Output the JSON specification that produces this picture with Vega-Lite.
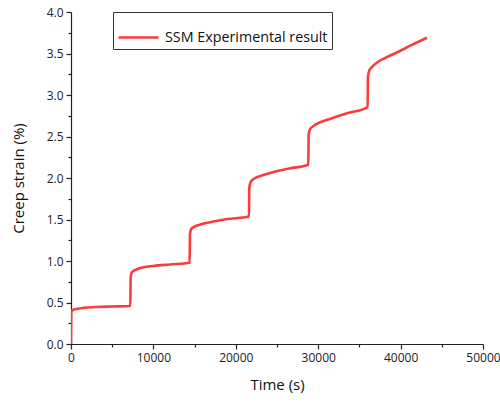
{
  "$schema": "https://vega.github.io/schema/vega-lite/v6.json",
  "autosize": "none",
  "width": 412,
  "height": 332,
  "padding": {"left": 71, "top": 12, "right": 17, "bottom": 60},
  "background": "white",
  "config": {
    "view": {"stroke": null},
    "axis": {"labelFont": "Open Sans", "titleFont": "Open Sans", "labelFontSize": 12, "titleFontSize": 15, "labelColor": "#222", "titleColor": "#111", "titleFontWeight": "normal", "domainColor": "#222", "tickColor": "#222", "domainWidth": 1.2, "tickWidth": 1.2, "grid": false},
    "legend": {"labelFont": "Open Sans"}
  },
  "data": {"values": [
    {"t": 0, "s": 0},
    {"t": 30, "s": 0.38},
    {"t": 200, "s": 0.41},
    {"t": 800, "s": 0.425},
    {"t": 1500, "s": 0.435},
    {"t": 3000, "s": 0.445},
    {"t": 5000, "s": 0.452},
    {"t": 7200, "s": 0.458},
    {"t": 7240, "s": 0.80},
    {"t": 7400, "s": 0.865},
    {"t": 8000, "s": 0.9},
    {"t": 8800, "s": 0.925},
    {"t": 10000, "s": 0.94},
    {"t": 12000, "s": 0.958},
    {"t": 14400, "s": 0.978},
    {"t": 14440, "s": 1.33},
    {"t": 14600, "s": 1.385},
    {"t": 15000, "s": 1.415},
    {"t": 15700, "s": 1.44},
    {"t": 17000, "s": 1.47},
    {"t": 19000, "s": 1.505},
    {"t": 21600, "s": 1.536},
    {"t": 21640, "s": 1.88},
    {"t": 21800, "s": 1.95},
    {"t": 22200, "s": 1.99},
    {"t": 23000, "s": 2.025},
    {"t": 24500, "s": 2.07},
    {"t": 26500, "s": 2.115},
    {"t": 28800, "s": 2.16},
    {"t": 28840, "s": 2.52},
    {"t": 29000, "s": 2.585},
    {"t": 29400, "s": 2.625},
    {"t": 30200, "s": 2.67},
    {"t": 31500, "s": 2.715},
    {"t": 33500, "s": 2.78},
    {"t": 36000, "s": 2.855},
    {"t": 36040, "s": 3.22},
    {"t": 36200, "s": 3.295},
    {"t": 36600, "s": 3.345},
    {"t": 37200, "s": 3.395},
    {"t": 38200, "s": 3.45},
    {"t": 39600, "s": 3.515},
    {"t": 41300, "s": 3.6},
    {"t": 43200, "s": 3.69}
  ]},
  "resolve": {"axis": {"x": "independent", "y": "independent"}},
  "layer": [
    {
      "mark": {"type": "point", "opacity": 0},
      "encoding": {
        "x": {"field": "t", "type": "quantitative", "axis": {"orient": "bottom", "title": null, "values": [5000, 15000, 25000, 35000, 45000], "labels": false, "domain": false, "tickSize": 3}},
        "y": {"field": "s", "type": "quantitative", "axis": {"orient": "left", "title": null, "values": [0.25, 0.75, 1.25, 1.75, 2.25, 2.75, 3.25, 3.75], "labels": false, "domain": false, "tickSize": 3}}
      }
    },
    {
      "mark": {"type": "line", "strokeWidth": 2.6, "interpolate": "monotone", "clip": true},
      "encoding": {
        "x": {"field": "t", "type": "quantitative", "scale": {"domain": [0, 50000], "nice": false, "zero": false},
              "axis": {"orient": "bottom", "title": "Time (s)", "values": [0, 10000, 20000, 30000, 40000, 50000], "format": "d", "tickSize": 5, "labelPadding": 3, "titlePadding": 14, "labelFlush": false, "labelOverlap": false}},
        "y": {"field": "s", "type": "quantitative", "scale": {"domain": [0, 4], "nice": false, "zero": false},
              "axis": {"orient": "left", "title": "Creep strain (%)", "values": [0, 0.5, 1, 1.5, 2, 2.5, 3, 3.5, 4], "format": ".1f", "tickSize": 5, "labelPadding": 3, "titlePadding": 20, "labelFlush": false, "labelOverlap": false}},
        "color": {"datum": "SSM Experimental result", "type": "nominal", "scale": {"range": ["#fa3c3c"]},
                  "legend": {"title": null, "orient": "none", "legendX": 42, "legendY": 0, "symbolType": "stroke", "symbolSize": 1600, "symbolStrokeWidth": 2.6, "strokeColor": "#333", "padding": 4, "labelFontSize": 14.3, "labelLimit": 400, "labelColor": "#111", "labelOffset": 5, "fillColor": "white"}}
      }
    }
  ]
}
